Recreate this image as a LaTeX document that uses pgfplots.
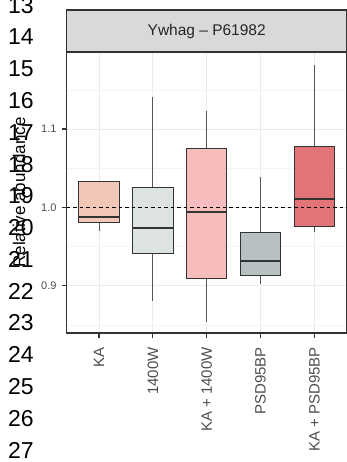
\documentclass[border=0pt]{standalone}
\usepackage{pgfplots}
\pgfplotsset{compat=1.18}
\usepackage{fontspec}
\setmainfont{Liberation Sans}
\definecolor{cKA}{HTML}{F3C7B8}
\definecolor{cW}{HTML}{DDE3E3}
\definecolor{cKW}{HTML}{F7BCBC}
\definecolor{cP}{HTML}{B8C1C1}
\definecolor{cKP}{HTML}{E27376}
\definecolor{bord}{HTML}{333333}
\definecolor{wh}{HTML}{555555}
\definecolor{txt}{HTML}{4D4D4D}
\definecolor{strip}{HTML}{D9D9D9}
\definecolor{gmaj}{HTML}{EBEBEB}
\definecolor{gmin}{HTML}{F4F4F4}
% box statistics: x, lower whisker, q1, median, q3, upper whisker
% KA:           1, 0.9702, 0.9804, 0.9881, 1.0332, 1.0332
% 1400W:        2, 0.8808, 0.9412, 0.9736, 1.0251, 1.1409
% KA + 1400W:   3, 0.8540, 0.9089, 0.9936, 1.0757, 1.1230
% PSD95BP:      4, 0.9025, 0.9136, 0.9310, 0.9680, 1.0387
% KA + PSD95BP: 5, 0.9680, 0.9757, 1.0106, 1.0775, 1.1814
\newcommand{\bx}[7]{% x, lw, q1, med, q3, uw, colour
  \addplot[wh, line width=1bp] coordinates {(#1,#2) (#1,#3)};
  \addplot[wh, line width=1bp] coordinates {(#1,#5) (#1,#6)};
  \addplot[fill=#7, draw=bord, line width=1bp] coordinates {(#1-0.375,#3) (#1+0.375,#3) (#1+0.375,#5) (#1-0.375,#5)} -- cycle;
  \addplot[bord, line width=2bp] coordinates {(#1-0.375,#4) (#1+0.375,#4)};
}
\begin{document}
\begin{tikzpicture}
\useasboundingbox (0,0) rectangle (347bp,462bp);
\begin{axis}[
  at={(66.7bp,129bp)}, anchor=south west,
  scale only axis, width=280bp, height=281bp,
  xmin=0.4, xmax=5.6, ymin=0.8396, ymax=1.1983,
  xtick={1,2,3,4,5},
  xticklabels={KA,1400W,KA + 1400W,PSD95BP,KA + PSD95BP},
  ytick={0.9,1.0,1.1}, yticklabels={0.9,1.0,1.1},
  minor ytick={0.85,0.95,1.05,1.15},
  grid=both,
  major grid style={gmaj, line width=0.8bp},
  minor grid style={gmin, line width=0.6bp},
  tick align=outside, tick pos=left,
  major tick length=5bp,
  minor tick length=0pt,
  every tick/.style={bord, line width=1.2bp},
  axis line style={bord, line width=1.3bp},
  x tick label style={rotate=90, anchor=east, font=\fontsize{15bp}{15bp}\selectfont, text=txt, inner sep=1bp, xshift=-8bp},
  y tick label style={font=\fontsize{11bp}{11bp}\selectfont, text=txt, inner sep=1bp, xshift=-4bp},
  /pgf/number format/assume math mode=true,
  ylabel={Relative abundance},
  ylabel style={at={(axis description cs:-0.17,0.5)}, anchor=center, rotate=0, font=\fontsize{17bp}{17bp}\selectfont},
]
\bx{1}{0.9702}{0.9804}{0.9881}{1.0332}{1.0332}{cKA}
\bx{2}{0.8808}{0.9412}{0.9736}{1.0251}{1.1409}{cW}
\bx{3}{0.8540}{0.9089}{0.9936}{1.0757}{1.1230}{cKW}
\bx{4}{0.9025}{0.9136}{0.9310}{0.9680}{1.0387}{cP}
\bx{5}{0.9680}{0.9757}{1.0106}{1.0775}{1.1814}{cKP}
\addplot[black, line width=0.9bp, dash pattern=on 3.5bp off 3bp] coordinates {(0.4,1) (5.6,1)};
\end{axis}
\draw[fill=strip, draw=bord, line width=1.3bp] (66.7bp,410bp) rectangle (346.7bp,452bp);
\node[font=\fontsize{15.5bp}{15.5bp}\selectfont, text=black!85] at (206.7bp,431bp) {Ywhag – P61982};
\foreach \n in {13,...,27} {
  \node[anchor=base west, inner sep=0pt, font=\fontsize{23bp}{23bp}\selectfont] at (8bp,{462bp-(45bp+(\n-14)*31.77bp)}) {\n};
}
\end{tikzpicture}
\end{document}
